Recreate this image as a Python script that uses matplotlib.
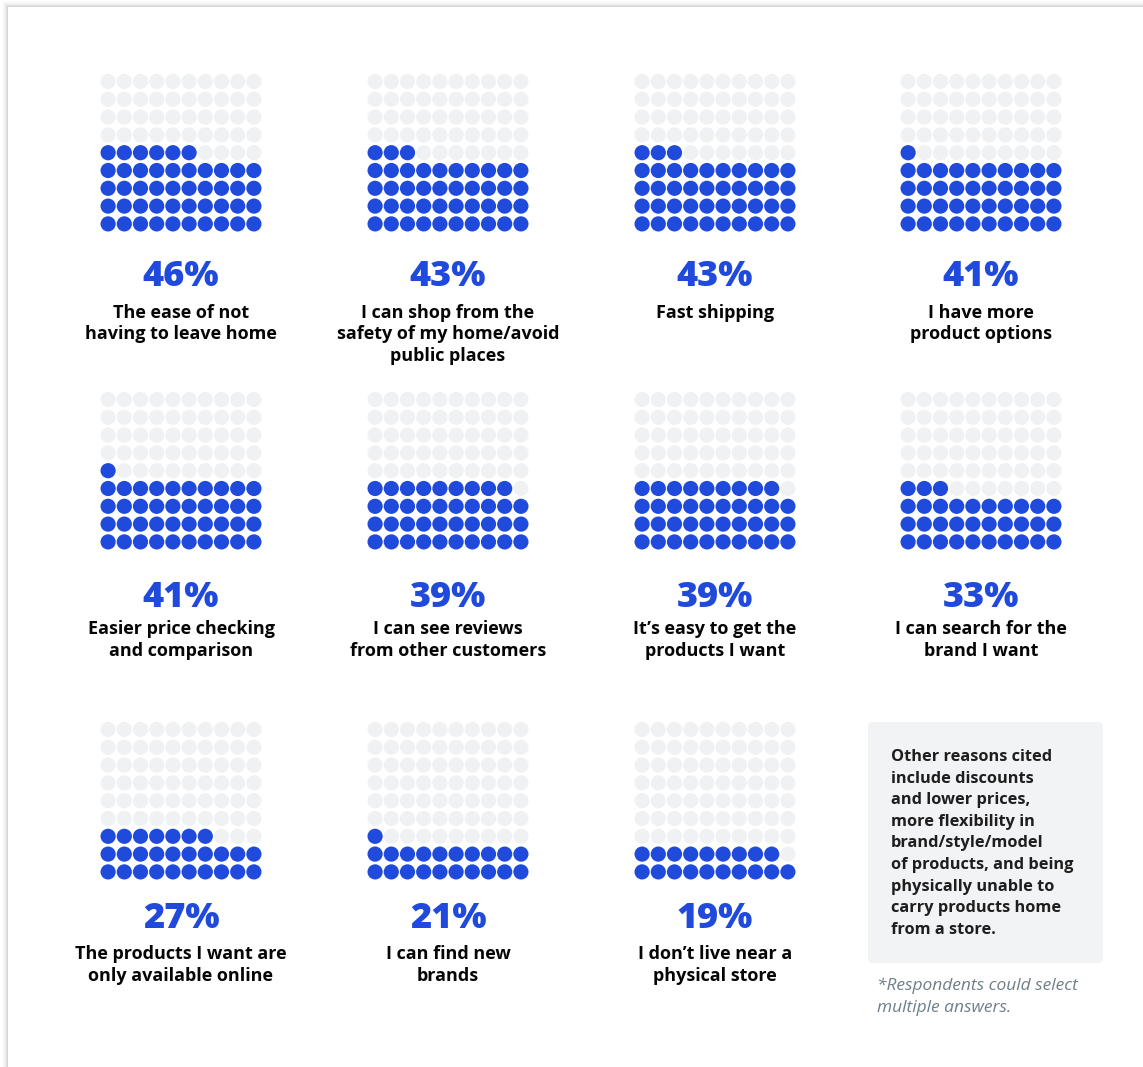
import matplotlib.pyplot as plt
import matplotlib.patches as mpatches

# ── Data ─────────────────────────────────────────────────────────────────────
percents = [46, 43, 43, 41, 41, 39, 39, 33, 27, 21, 19]
labels = [
    "The ease of not\nhaving to leave home",
    "I can shop from the\nsafety of my home/avoid\npublic places",
    "Fast shipping",
    "I have more\nproduct options",
    "Easier price checking\nand comparison",
    "I can see reviews\nfrom other customers",
    "It\u2019s easy to get the\nproducts I want",
    "I can search for the\nbrand I want",
    "The products I want are\nonly available online",
    "I can find new\nbrands",
    "I don\u2019t live near a\nphysical store",
]
note_text = ("Other reasons cited\ninclude discounts\nand lower prices,\n"
             "more flexibility in\nbrand/style/model\nof products, and being\n"
             "physically unable to\ncarry products home\nfrom a store.")
footnote = "*Respondents could select\nmultiple answers."

# ── Style ────────────────────────────────────────────────────────────────────
BLUE = "#1f4adb"
GREY_DOT = "#f0f1f3"
BOX = "#f2f3f5"
TEXT = "#050505"
FONT = ["Open Sans", "DejaVu Sans"]

W, H = 1143, 1067
N_COLS, N_ROWS = 10, 9
DX, DY, R = 16.2, 17.8, 7.6

col_x = [181, 448, 715, 981]
grid_top = [81.5, 399.5, 729.5]
pct_y = [277, 598, 919]
lab_y = [312.5, 629.5, 954]
LINE = 21.8

fig = plt.figure(figsize=(W / 100, H / 100), dpi=100)
fig.patch.set_facecolor("white")
ax = fig.add_axes([0, 0, 1, 1])
ax.set_xlim(0, W)
ax.set_ylim(H, 0)
ax.set_axis_off()

# card shadow + card
for i, a in enumerate([0.05, 0.05, 0.04, 0.03, 0.02, 0.015, 0.01]):
    ax.add_patch(mpatches.Rectangle((8 - i, 7 - i), W, H, facecolor="black",
                                    edgecolor="none", alpha=a, zorder=0))
ax.add_patch(mpatches.Rectangle((8, 7), W, H, facecolor="white",
                                edgecolor="none", zorder=1))

for k, (pct, lab) in enumerate(zip(percents, labels)):
    row, col = divmod(k, 4)
    cx = col_x[col]
    top = grid_top[row]
    for i in range(N_ROWS * N_COLS):
        r, c = divmod(i, N_COLS)      # r counted from bottom
        filled = i < pct
        x = cx + (c - (N_COLS - 1) / 2) * DX
        y = top + (N_ROWS - 1 - r) * DY
        ax.add_patch(mpatches.Circle((x, y), R, facecolor=BLUE if filled else GREY_DOT,
                                     edgecolor="none", zorder=2))
    ax.text(cx, pct_y[row], f"{pct}%", ha="center", va="center", color=BLUE,
            fontsize=26, fontweight="heavy", family=FONT, zorder=3)
    for j, line in enumerate(lab.split("\n")):
        ax.text(cx, lab_y[row] + j * LINE, line, ha="center", va="center",
                color=TEXT, fontsize=13, fontweight="bold", family=FONT, zorder=3)

# side note box
ax.add_patch(mpatches.FancyBboxPatch((868, 722), 235, 241,
                                     boxstyle="round,pad=0,rounding_size=4",
                                     facecolor=BOX, edgecolor="none", zorder=2))
for j, line in enumerate(note_text.split("\n")):
    ax.text(891, 757 + j * 21.6, line, ha="left", va="center", color="#1e1e1e",
            fontsize=11.8, fontweight="bold", family=FONT, zorder=3)
for j, line in enumerate(footnote.split("\n")):
    ax.text(877, 986 + j * 21.6, line, ha="left", va="center", color="#6e7f88",
            fontsize=12.5, style="italic", family=FONT, zorder=3)

fig.savefig("out.png", dpi=100, facecolor=fig.get_facecolor())
